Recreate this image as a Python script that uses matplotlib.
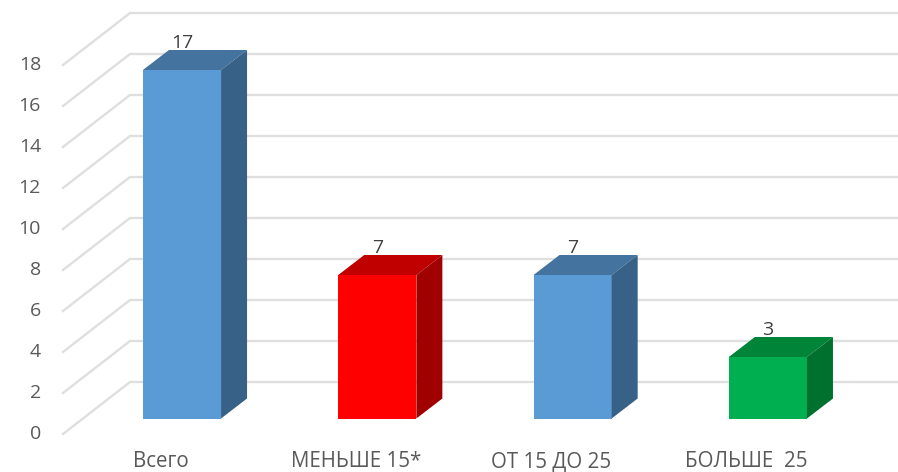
import matplotlib
matplotlib.use('Agg')
import matplotlib.pyplot as plt

categories = ['Всего', 'МЕНЬШЕ 15*', 'ОТ 15 ДО 25', 'БОЛЬШЕ  25']
values = [17, 7, 7, 3]
yticks = list(range(0, 20, 2))

front_colors = ['#5B9BD5', '#FF0000', '#5B9BD5', '#00B050']
top_colors = ['#44739F', '#C00000', '#44739F', '#008438']
side_colors = ['#376186', '#A00000', '#376186', '#00702F']

grid_color = '#DFDFDF'
text_color = '#595959'
font = 'Open Sans'

W, H = 898, 472
PX_X = 195.3   # pixels per category
PX_Y = 20.5    # pixels per unit of value
bar_w = 0.40
dx = 26 / PX_X   # bar depth
dy = 20 / PX_Y

fig = plt.figure(figsize=(W / 100, H / 100), dpi=100)
ax = fig.add_axes([0, 0, 1, 1])
ax.set_xlim(-182 / PX_X, (W - 182) / PX_X)
ax.set_ylim((418.5 - H) / PX_Y, 418.5 / PX_Y)
ax.axis('off')

# wall and back gridlines
wall_x0, wall_x1 = (63 - 182) / PX_X, (130 - 182) / PX_X
wall_y0, wall_y1 = -15.5 / PX_Y, 36.5 / PX_Y
x_end = (W - 182) / PX_X
for t in yticks:
    ax.plot([wall_x0, wall_x1, x_end], [t + wall_y0, t + wall_y1, t + wall_y1],
            color=grid_color, lw=1.7, zorder=1, solid_joinstyle='miter')
    ax.text((41 - 182) / PX_X, t - 0.74, str(t), ha='right', va='center',
            fontsize=14, color=text_color, family=font)

# bars: front face from bar(), top and side faces offset by the depth
pos = range(len(values))
ax.bar(pos, values, width=bar_w, color=front_colors, zorder=3)
for i, v in enumerate(values):
    l, r = i - bar_w / 2, i + bar_w / 2
    ax.fill([l, r, r + dx, l + dx], [v, v, v + dy, v + dy], color=top_colors[i], lw=0, zorder=3)
    ax.fill([r, r + dx, r + dx, r], [0, dy, v + dy, v], color=side_colors[i], lw=0, zorder=3)
    ax.text(i, v + 1.32, str(v), ha='center', va='center', fontsize=14,
            color='#404040', family=font, zorder=2)
    ax.text(i - 0.11, -2.39, categories[i], ha='center', va='baseline', fontsize=14.8,
            color=text_color, family=font)

fig.savefig('out.png', dpi=100)
